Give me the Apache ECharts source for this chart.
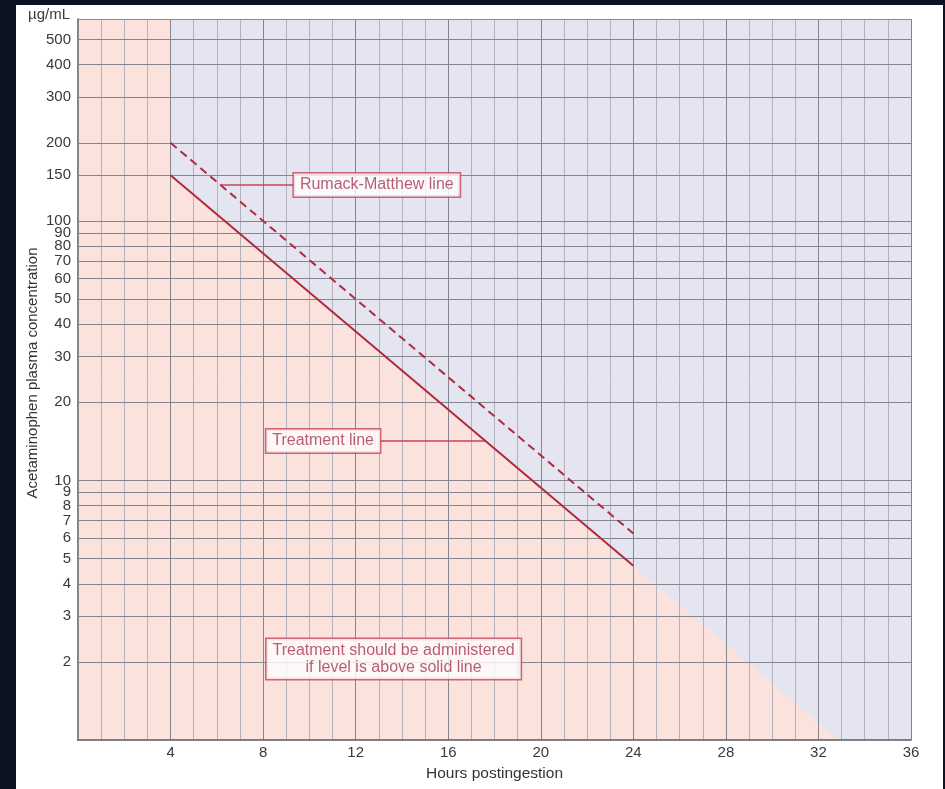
<!DOCTYPE html>
<html>
<head>
<meta charset="utf-8">
<title>Rumack-Matthew nomogram</title>
<script src="https://cdn.jsdelivr.net/npm/echarts@6/dist/echarts.min.js"></script>
<style>
  html, body { margin: 0; padding: 0; background: #0b1322; }
  #sheet { position: absolute; left: 16px; top: 5px; width: 927px; height: 784px; background: #ffffff; }
  #chart { position: absolute; left: 0; top: 0; width: 945px; height: 789px; }
</style>
</head>
<body>
<div id="sheet"></div>
<div id="chart"></div>
<script>
// Hours after ingestion at the start and end of the two reference lines
const lineHours = [4, 24];
// Acetaminophen concentration (µg/mL) on each line at those hours
const treatmentConc = [150, 4.69];
const rumackConc = [200, 6.25];

// Outline of the "no treatment" zone: everything before 4 h, and below the
// treatment line carried on until it meets the bottom of the scale
const shadeHours = [0, 4, 4, 32.9];
const shadeConc = [600, 600, 150, 1];

// Concentration gridlines / tick labels
const concTicks = [500, 400, 300, 200, 150, 100, 90, 80, 70, 60, 50, 40, 30, 20, 10, 9, 8, 7, 6, 5, 4, 3, 2];

// Callout anchors: [hour, concentration]
const rumackLeader = [[6.14, 137.5], [9.33, 137.5]];
const treatmentLeader = [[13.05, 14.2], [17.6, 14.2]];
const noteAnchor = [13.64, 2.05];

const RED = '#b02a3c';
const LABEL_RED = '#a8374f';
const FONT = '"Liberation Sans", Arial, sans-serif';

const zip = (xs, ys) => xs.map((x, i) => [x, ys[i]]);

const boxLabel = {
  show: true,
  color: LABEL_RED,
  fontFamily: FONT,
  fontSize: 16,
  backgroundColor: '#ffffff',
  borderColor: '#c4455c',
  borderWidth: 1.5,
  lineHeight: 17,
  padding: [3, 6, 3, 6]
};

const chart = echarts.init(document.getElementById('chart'), null, { renderer: 'canvas' });

chart.setOption({
  backgroundColor: 'transparent',
  animation: false,
  grid: {
    left: 78, right: 34, top: 19, bottom: 49,
    show: true,
    backgroundColor: '#e5e5f2',
    borderWidth: 0
  },
  xAxis: [
    { // hourly gridlines
      type: 'value', min: 0, max: 36, interval: 1, z: 2,
      axisLine: { show: false }, axisTick: { show: false }, axisLabel: { show: false },
      splitLine: { show: true, lineStyle: { color: '#b3b3bd', width: 1 } }
    },
    { // four-hour gridlines, labels and bottom edge
      type: 'value', min: 0, max: 36, interval: 4, z: 2,
      position: 'bottom',
      name: 'Hours postingestion', nameLocation: 'middle', nameGap: 26,
      nameTextStyle: { color: '#333', fontFamily: FONT, fontSize: 15.5 },
      axisLine: { show: true, lineStyle: { color: '#5a5a62', width: 1.5 } },
      axisTick: { show: false },
      axisLabel: {
        color: '#3a3a3a', fontFamily: FONT, fontSize: 15, margin: 5,
        formatter: v => (v === 0 ? '' : String(v))
      },
      splitLine: { show: true, lineStyle: { color: '#85858f', width: 1 } }
    },
    { // top edge
      type: 'value', min: 0, max: 36, position: 'top', z: 2,
      axisLine: { show: true, onZero: false, lineStyle: { color: '#8a8a92', width: 1 } },
      axisTick: { show: false }, axisLabel: { show: false }, splitLine: { show: false }
    }
  ],
  yAxis: [
    {
      type: 'log', logBase: 10, min: 1, max: 600, z: 2,
      name: 'µg/mL', nameLocation: 'end', nameGap: 4,
      nameTextStyle: { color: '#3a3a3a', fontFamily: FONT, fontSize: 15, align: 'right', verticalAlign: 'middle', padding: [0, 8, 0, 0] },
      axisLine: { show: true, lineStyle: { color: '#5a5a62', width: 1.5 } },
      axisTick: { show: false }, axisLabel: { show: false }, splitLine: { show: false }
    },
    {
      type: 'value', position: 'left', z: 2,
      name: 'Acetaminophen plasma concentration', nameLocation: 'middle', nameGap: 38,
      nameTextStyle: { color: '#333', fontFamily: FONT, fontSize: 15, padding: [0, 0, 0, 13] },
      axisLine: { show: false }, axisTick: { show: false }, axisLabel: { show: false }, splitLine: { show: false }
    },
    { // right edge
      type: 'log', logBase: 10, min: 1, max: 600, position: 'right', z: 2,
      axisLine: { show: true, lineStyle: { color: '#8a8a92', width: 1 } },
      axisTick: { show: false }, axisLabel: { show: false }, splitLine: { show: false }
    }
  ],
  series: [
    { // pink zone below the treatment line
      type: 'line', name: 'shade', z: 1,
      xAxisIndex: 0, yAxisIndex: 0,
      data: zip(shadeHours, shadeConc),
      symbol: 'none', silent: true,
      lineStyle: { width: 0, opacity: 0 },
      areaStyle: { color: '#fbe2dd', opacity: 1, origin: 'start' }
    },
    { // horizontal concentration gridlines with their labels
      type: 'line', name: 'conc grid', z: 3,
      xAxisIndex: 0, yAxisIndex: 0,
      data: [], silent: true,
      markLine: {
        silent: true, symbol: ['none', 'none'], animation: false,
        lineStyle: { type: 'solid', color: '#85858f', width: 1 },
        label: {
          show: true, position: 'start', distance: 7,
          color: '#3a3a3a', fontFamily: FONT, fontSize: 15,
          formatter: p => String(p.value)
        },
        emphasis: { disabled: true },
        data: concTicks.map(v => ({ yAxis: v }))
      }
    },
    {
      type: 'line', name: 'Rumack-Matthew line', z: 5,
      xAxisIndex: 0, yAxisIndex: 0,
      data: zip(lineHours, rumackConc),
      symbol: 'none',
      lineStyle: { color: RED, width: 2, type: [8, 5] }
    },
    {
      type: 'line', name: 'Treatment line', z: 5,
      xAxisIndex: 0, yAxisIndex: 0,
      data: zip(lineHours, treatmentConc),
      symbol: 'none',
      lineStyle: { color: RED, width: 2 }
    },
    { // leader lines
      type: 'line', name: 'leaders', z: 5,
      xAxisIndex: 0, yAxisIndex: 0, data: [], silent: true,
      markLine: {
        silent: true, symbol: ['none', 'none'], animation: false,
        lineStyle: { type: 'solid', color: '#c4455c', width: 1.5 },
        label: { show: false },
        data: [
          [{ coord: rumackLeader[0] }, { coord: rumackLeader[1] }],
          [{ coord: treatmentLeader[0] }, { coord: treatmentLeader[1] }]
        ]
      }
    },
    { // callout boxes
      type: 'scatter', name: 'callouts', z: 6,
      xAxisIndex: 0, yAxisIndex: 0, symbolSize: 0, silent: true,
      data: [
        { value: rumackLeader[1], label: Object.assign({}, boxLabel, { position: 'right', distance: 0, formatter: 'Rumack-Matthew line' }) },
        { value: treatmentLeader[0], label: Object.assign({}, boxLabel, { position: 'left', distance: 0, formatter: 'Treatment line' }) },
        { value: noteAnchor, label: Object.assign({}, boxLabel, { position: 'inside', align: 'center', padding: [3, 6, 3, 6],
            formatter: 'Treatment should be administered\nif level is above solid line' }) }
      ]
    }
  ]
});
</script>
</body>
</html>
